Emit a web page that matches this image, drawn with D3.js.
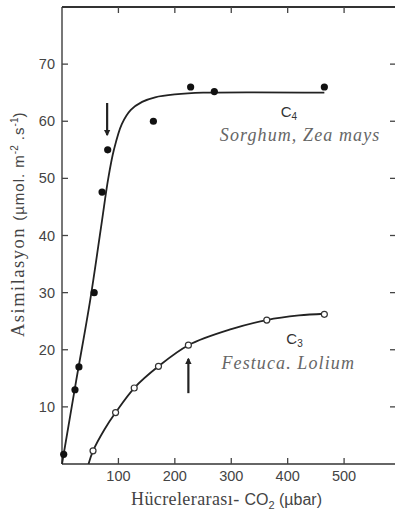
<!DOCTYPE html>
<html lang="tr">
<head>
<meta charset="UTF-8">
<title>Asimilasyon - CO2</title>
<style>
  body { margin: 0; background: #fff; }
  svg { display: block; }
  .tick-label { font-family: "Liberation Sans", Arial, sans-serif; font-size: 14.5px; fill: #444; }
  .species { font-family: "Liberation Serif", "Times New Roman", serif; font-style: italic; font-size: 18px; fill: #666; letter-spacing: 1.1px; }
  .ctype { font-family: "Liberation Sans", Arial, sans-serif; font-size: 15px; fill: #333; }
</style>
</head>
<body>
<svg width="395" height="517"></svg>
<script src="https://d3js.org/d3.v7.min.js"></script>
<script>
// C4 measured points (Sorghum, Zea mays)
const c4Points = [
  [3, 1.7], [23, 13], [30, 17], [57, 30], [71, 47.6], [81, 55],
  [162, 60], [228, 66], [270, 65.2], [465, 66]
];
// C4 fitted curve
const c4Curve = [
  [0, 0], [25, 14.5], [50, 28.7], [70, 42], [82, 50], [92, 55],
  [106, 59.5], [122, 62], [142, 63.4], [165, 64.2], [200, 64.7],
  [250, 65], [465, 65]
];
// C3 measured points (Festuca, Lolium)
const c3Points = [
  [55, 2.3], [95, 9], [128, 13.3], [171, 17.1], [224, 20.8], [363, 25.2], [465, 26.2]
];
// C3 fitted curve
const c3Curve = [
  [47, 0], [55, 2.3], [75, 6], [95, 9], [128, 13.3], [171, 17.1],
  [224, 20.8], [300, 23.6], [363, 25.2], [420, 26], [465, 26.3]
];
// arrows: [co2, from, to]
const arrows = [[80, 63.2, 57.6], [224, 12.4, 18.4]];

const xTicks = [100, 200, 300, 400, 500];
const yTicks = [10, 20, 30, 40, 50, 60, 70];

const svg = d3.select("svg");
const x = d3.scaleLinear().domain([0, 592]).range([62, 396]);
const y = d3.scaleLinear().domain([0, 80]).range([464, 7]);

const frame = "#333";

// frame lines (left, top, bottom; right one sits just off the edge)
svg.append("line").attr("x1", x(0)).attr("x2", x(0)).attr("y1", y(80)).attr("y2", y(0))
  .attr("stroke", "#555").attr("stroke-width", 1.6);
svg.append("line").attr("x1", x(0)).attr("x2", 396).attr("y1", y(80)).attr("y2", y(80))
  .attr("stroke", frame).attr("stroke-width", 1.8);
svg.append("line").attr("x1", x(0)).attr("x2", 396).attr("y1", y(0)).attr("y2", y(0))
  .attr("stroke", frame).attr("stroke-width", 1.6);

// inward ticks
const tk = svg.append("g").attr("stroke", "#444").attr("stroke-width", 1.3);
xTicks.forEach(v => {
  tk.append("line").attr("x1", x(v)).attr("x2", x(v)).attr("y1", y(0)).attr("y2", y(0) - 6);
  tk.append("line").attr("x1", x(v)).attr("x2", x(v)).attr("y1", y(80)).attr("y2", y(80) + 6);
});
yTicks.forEach(v => {
  tk.append("line").attr("x1", x(0)).attr("x2", x(0) + 6).attr("y1", y(v)).attr("y2", y(v));
  tk.append("line").attr("x1", 396).attr("x2", 390).attr("y1", y(v)).attr("y2", y(v));
});

// tick labels
svg.append("g").selectAll("text").data(xTicks).join("text")
  .attr("class", "tick-label").attr("text-anchor", "middle")
  .attr("x", d => x(d)).attr("y", 481).text(d => d);
svg.append("g").selectAll("text").data(yTicks).join("text")
  .attr("class", "tick-label").attr("text-anchor", "end")
  .attr("x", 55).attr("y", d => y(d) + 5).text(d => d);

// curves
const line = d3.line().x(d => x(d[0])).y(d => y(d[1])).curve(d3.curveCatmullRom.alpha(0.5));
svg.append("path").datum(c4Curve).attr("d", line)
  .attr("fill", "none").attr("stroke", "#222").attr("stroke-width", 1.8);
svg.append("path").datum(c3Curve).attr("d", line)
  .attr("fill", "none").attr("stroke", "#222").attr("stroke-width", 1.8);

// points
svg.append("g").selectAll("circle").data(c4Points).join("circle")
  .attr("cx", d => x(d[0])).attr("cy", d => y(d[1])).attr("r", 3.6).attr("fill", "#111");
svg.append("g").selectAll("circle").data(c3Points).join("circle")
  .attr("cx", d => x(d[0])).attr("cy", d => y(d[1])).attr("r", 3)
  .attr("fill", "#fff").attr("stroke", "#333").attr("stroke-width", 1.2);

// arrows
svg.append("defs").append("marker")
  .attr("id", "head").attr("viewBox", "0 0 10 10").attr("refX", 8).attr("refY", 5)
  .attr("markerWidth", 3).attr("markerHeight", 4).attr("orient", "auto")
  .append("path").attr("d", "M0,0 L10,5 L0,10 Z").attr("fill", "#222");
svg.append("g").selectAll("line").data(arrows).join("line")
  .attr("x1", d => x(d[0])).attr("x2", d => x(d[0]))
  .attr("y1", d => y(d[1])).attr("y2", d => y(d[2]))
  .attr("stroke", "#222").attr("stroke-width", 2.2).attr("marker-end", "url(#head)");

// annotations
const c4 = svg.append("text").attr("class", "ctype").attr("x", x(400) - 7).attr("y", y(60.8));
c4.append("tspan").text("C");
c4.append("tspan").attr("dy", 3).attr("font-size", "10px").text("4");
svg.append("text").attr("class", "species").attr("text-anchor", "middle")
  .attr("x", x(422)).attr("y", y(56.6)).text("Sorghum, Zea mays");

const c3 = svg.append("text").attr("class", "ctype").attr("x", x(410) - 7).attr("y", y(21));
c3.append("tspan").text("C");
c3.append("tspan").attr("dy", 3).attr("font-size", "10px").text("3");
svg.append("text").attr("class", "species").attr("text-anchor", "middle")
  .attr("x", x(401)).attr("y", y(16.6)).text("Festuca. Lolium");

// axis titles
const sans = "Liberation Sans, sans-serif";
const xl = svg.append("text").attr("x", 131).attr("y", 505).attr("fill", "#444");
xl.append("tspan").attr("font-family", "Liberation Serif, serif").attr("font-size", "18px")
  .attr("letter-spacing", "0.4px").text("Hücrelerarası- ");
xl.append("tspan").attr("font-family", sans).attr("font-size", "16px").text("CO");
xl.append("tspan").attr("font-family", sans).attr("font-size", "11px").attr("dy", 4).text("2");
xl.append("tspan").attr("font-family", sans).attr("font-size", "16px").attr("dy", -4).text(" (µbar)");

const yl = svg.append("text").attr("transform", "translate(24,337) rotate(-90)").attr("fill", "#444");
yl.append("tspan").attr("font-family", "Liberation Serif, serif").attr("font-size", "18.5px")
  .attr("letter-spacing", "1.5px").text("Asimilasyon ");
yl.append("tspan").attr("font-family", sans).attr("font-size", "15px")
  .attr("letter-spacing", "1px").text(" (µmol. m");
yl.append("tspan").attr("font-family", sans).attr("font-size", "10px").attr("dy", -6).text("-2");
yl.append("tspan").attr("font-family", sans).attr("font-size", "15px")
  .attr("letter-spacing", "1px").attr("dy", 6).text(" .s");
yl.append("tspan").attr("font-family", sans).attr("font-size", "10px").attr("dy", -6).text("-1");
yl.append("tspan").attr("font-family", sans).attr("font-size", "15px").attr("dy", 6).text(")");
</script>
</body>
</html>
